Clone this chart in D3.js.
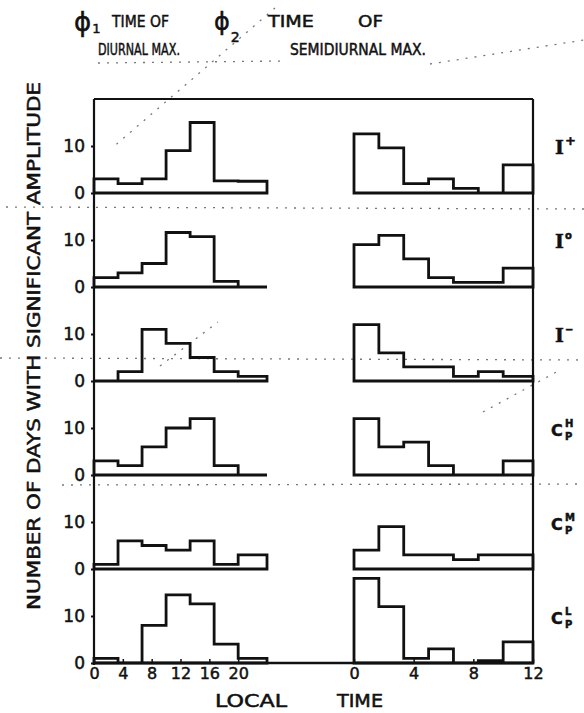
<!DOCTYPE html>
<html>
<head>
<meta charset="utf-8">
<script src="https://cdn.jsdelivr.net/npm/d3@7"></script>
<style>
  body { margin: 0; background: #fff; }
  svg { display: block; }
  text { font-family: "DejaVu Sans", sans-serif; fill: #111; stroke: #111; stroke-width: 0.5px; }
</style>
</head>
<body>
<div class="chart"></div>
<script>
/* DATA */

// rows top to bottom: I+, I0, I-, CpH, CpM, CpL
const panelLabels = [
  {base: "I", sup: "+", sub: ""},
  {base: "I", sup: "o", sub: ""},
  {base: "I", sup: "\u2212", sub: ""},
  {base: "C", sup: "H", sub: "P"},
  {base: "C", sup: "M", sub: "P"},
  {base: "C", sup: "L", sub: "P"}
];

// bin edges in hours
const diurnalEdges = [0, 10/3, 20/3, 10, 40/3, 50/3, 20, 24];
const semidiurnalEdges = [0, 5/3, 10/3, 5, 20/3, 25/3, 10, 12];

// number of days per bin, phi1 (time of diurnal max)
const diurnalCounts = [
  [3, 2, 3, 9, 15, 2.6, 2.5],
  [2, 3, 5, 11.6, 10.7, 1.2, 0],
  [0, 2, 11, 8, 5, 2, 1],
  [3, 2, 6, 10, 12, 2, 0],
  [1, 6, 5, 4, 6, 1, 3],
  [1, 0, 8, 14.5, 12.6, 4, 1]
];

// number of days per bin, phi2 (time of semidiurnal max)
const semidiurnalCounts = [
  [12.6, 9.6, 2, 3, 1, 0, 6],
  [9, 11, 6, 2, 1, 1, 4],
  [12, 6, 3, 3, 1, 2, 1],
  [12, 6, 7, 2, 0, 0, 3],
  [4, 9, 3, 3, 2, 3, 3],
  [18, 12, 1, 3, 0, 0.5, 4.5]
];

const yTicks = [0, 10];
const diurnalTicks = [0, 4, 8, 12, 16, 20];
const semidiurnalTicks = [0, 4, 8, 12];

/* CHART */

const W = 584, H = 713;
const box = {left: 94, right: 533, top: 99, bottom: 663};
const panelH = (box.bottom - box.top) / panelLabels.length;

const svg = d3.select(".chart").append("svg")
    .attr("width", W)
    .attr("height", H);

// faint marks showing through the scanned page
const scanMarks = [
  [[6, 207], [584, 209]],
  [[0, 358], [584, 360]],
  [[62, 485], [584, 484]],
  [[275, 8], [112, 148]],
  [[160, 366], [218, 322]],
  [[483, 412], [560, 370]],
  [[98, 63], [285, 61]],
  [[430, 64], [584, 40]]
];
svg.append("g")
    .selectAll("line")
    .data(scanMarks)
    .join("line")
    .attr("x1", d => d[0][0]).attr("y1", d => d[0][1])
    .attr("x2", d => d[1][0]).attr("y2", d => d[1][1])
    .attr("stroke", "#777")
    .attr("stroke-width", 1.3)
    .attr("stroke-dasharray", "2,7");

const xLeft = d3.scaleLinear().domain([0, 24]).range([box.left, 267]);
const xRight = d3.scaleLinear().domain([0, 12]).range([354, box.right]);

// histogram outline: up from the base, along the steps, back down
function outline(edges, counts, x, y) {
  const pts = [[edges[0], 0]];
  counts.forEach((c, i) => {
    pts.push([edges[i], c]);
    pts.push([edges[i + 1], c]);
  });
  pts.push([edges[edges.length - 1], 0]);
  return d3.line().x(d => x(d[0])).y(d => y(d[1]))(pts) + "Z";
}

panelLabels.forEach((lab, i) => {
  const zero = box.top + panelH * (i + 1);
  const y = d3.scaleLinear().domain([0, 20]).range([zero, zero - panelH]);

  const g = svg.append("g").attr("class", "panel");

  g.append("path")
      .attr("d", outline(diurnalEdges, diurnalCounts[i], xLeft, y))
      .attr("fill", "none")
      .attr("stroke", "#111")
      .attr("stroke-width", 2.8);

  g.append("path")
      .attr("d", outline(semidiurnalEdges, semidiurnalCounts[i], xRight, y))
      .attr("fill", "none")
      .attr("stroke", "#111")
      .attr("stroke-width", 2.8);

  const yAxis = d3.axisLeft(y)
      .tickValues(yTicks)
      .tickSize(3)
      .tickPadding(6)
      .tickFormat(d3.format("d"));

  g.append("g")
      .attr("transform", `translate(${box.left},0)`)
      .call(yAxis)
      .call(a => a.select(".domain").remove())
      .call(a => a.selectAll("line").attr("stroke", "#111").attr("stroke-width", 2))
      .call(a => a.selectAll("text").attr("font-size", 17).attr("fill", "#111")
          .style("font-family", "DejaVu Sans"));

  // row label on the right
  const base = zero - panelH / 2 + 8;
  const isI = lab.base === "I";
  svg.append("text")
      .attr("x", isI ? 555 : 551)
      .attr("y", base)
      .attr("font-size", isI ? 19 : 16)
      .attr("font-weight", "bold")
      .style("font-family", isI ? "DejaVu Serif" : "DejaVu Sans")
      .text(lab.base);
  svg.append("text")
      .attr("x", 565)
      .attr("y", base - 9)
      .attr("font-size", lab.sup === "+" ? 13 : 10)
      .attr("font-weight", "bold")
      .text(lab.sup);
  if (lab.sub) {
    svg.append("text")
        .attr("x", 565)
        .attr("y", base + 4)
        .attr("font-size", 10)
        .attr("font-weight", "bold")
        .text(lab.sub);
  }
});

// frame
const frame = svg.append("g")
    .attr("stroke", "#111")
    .attr("stroke-width", 2.2)
    .attr("fill", "none");
frame.append("line").attr("x1", box.left).attr("x2", box.right).attr("y1", box.top).attr("y2", box.top);
frame.append("line").attr("x1", box.left).attr("x2", box.left).attr("y1", box.top).attr("y2", box.bottom + 2);
frame.append("line").attr("x1", box.right).attr("x2", box.right).attr("y1", box.top).attr("y2", box.bottom);

// bottom axes, ticks pointing up
const xAxisLeft = d3.axisBottom(xLeft).tickValues(diurnalTicks).tickSize(-4).tickPadding(5);
const xAxisRight = d3.axisBottom(xRight).tickValues(semidiurnalTicks).tickSize(-4).tickPadding(5);

svg.append("line")
    .attr("x1", box.left).attr("x2", box.right)
    .attr("y1", box.bottom).attr("y2", box.bottom)
    .attr("stroke", "#111").attr("stroke-width", 2.6);

[xAxisLeft, xAxisRight].forEach(ax => {
  svg.append("g")
      .attr("transform", `translate(0,${box.bottom})`)
      .call(ax)
      .call(a => a.select(".domain").remove())
      .call(a => a.selectAll("line").attr("stroke", "#111").attr("stroke-width", 1.5))
      .call(a => a.selectAll("text").attr("font-size", 16).attr("fill", "#111")
          .style("font-family", "DejaVu Sans"));
});

// titles: lettering is tall and narrow, so squeeze each text to its width
function title(x, y, str, len, size) {
  const t = svg.append("text")
      .attr("font-size", size)
      .text(str);
  const w = t.node().getComputedTextLength();
  t.attr("transform", `translate(${x},${y}) scale(${len / w},1)`);
  return t;
}

const phi1 = svg.append("text").attr("x", 74).attr("y", 31).attr("font-size", 26);
phi1.append("tspan").text("\u03D5");
phi1.append("tspan").attr("font-size", 13).attr("dy", 2).attr("dx", 1).text("1");
title(112, 27, "TIME OF", 57, 16);
title(98, 55, "DIURNAL MAX.", 82, 16);

const phi2 = svg.append("text").attr("x", 214).attr("y", 30).attr("font-size", 24);
phi2.append("tspan").text("\u03D5");
phi2.append("tspan").attr("font-size", 14).attr("dy", 12).attr("dx", 1).text("2");
title(268, 27, "TIME", 46, 16);
title(358, 27, "OF", 25, 16);
title(290, 55, "SEMIDIURNAL MAX.", 136, 16);

svg.append("text")
    .attr("transform", "translate(40,346) rotate(-90)")
    .attr("text-anchor", "middle")
    .attr("font-size", 17)
    .attr("textLength", 528)
    .attr("lengthAdjust", "spacingAndGlyphs")
    .text("NUMBER OF DAYS WITH SIGNIFICANT AMPLITUDE");

title(215, 707, "LOCAL", 72, 17);
title(337, 707, "TIME", 46, 17);
</script>
</body>
</html>
